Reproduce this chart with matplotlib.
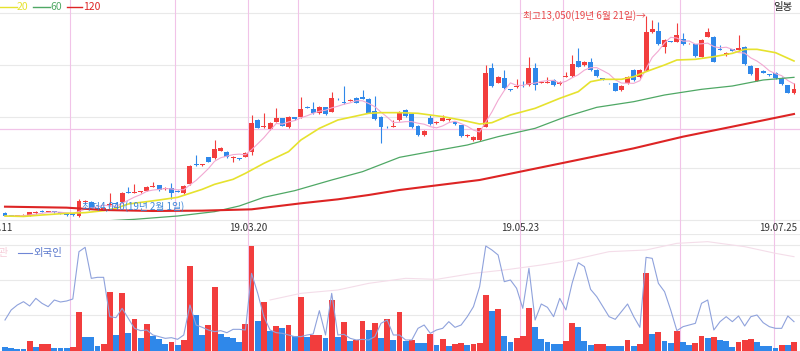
import matplotlib
matplotlib.use("Agg")
import matplotlib.pyplot as plt
import numpy as np
import pandas as pd

plt.rcParams['font.family'] = ['Noto Sans CJK KR', 'DejaVu Sans']

# daily candles (won)
opens = [4190, 4090, 4080, 4100, 4085, 4190, 4300, 4260, 4270, 4235,
         4190, 4145, 4070, 4685, 4710, 4420, 4400, 4545, 4670, 4683,
         5145, 5120, 5150, 5205, 5370, 5444, 5280, 5340, 5205, 5086,
         5504, 6385, 6355, 6698, 6653, 7000, 6952, 6653, 6653, 6728,
         6952, 8370, 8042, 7952, 8296, 8445, 8042, 8490, 8490, 8967,
         8863, 8669, 8938, 8744, 9325, 9161, 9221, 9355, 9415, 9311,
         8789, 8520, 8072, 8060, 8370, 8818, 8639, 8101, 7698, 8445,
         8221, 8340, 8370, 8281, 8131, 7654, 7474, 7474, 8072, 10714,
         10042, 10251, 9750, 9834, 9893, 9938, 10714, 10043, 10043, 10162,
         9983, 10310, 10341, 11028, 10834, 10983, 10610, 10221, 10020, 10013,
         9714, 10013, 10610, 10281, 10580, 12297, 12357, 11655, 11880, 11879,
         11998, 11800, 11759, 11207, 12103, 12103, 11530, 11282, 11535, 11506,
         11655, 10789, 10132, 10565, 10400, 10490, 10266, 9938, 9565]
highs = [4235, 4120, 4130, 4140, 4260, 4280, 4330, 4310, 4300, 4260,
         4210, 4170, 4817, 4790, 4740, 4450, 4480, 5086, 4700, 5150,
         5384, 5500, 5200, 5400, 5590, 5480, 5370, 5534, 5230, 5450,
         6350, 6803, 6410, 6730, 7474, 7150, 6990, 6760, 6690, 6940,
         8594, 8400, 8669, 8260, 8893, 8480, 8550, 8520, 9415, 9000,
         9191, 9000, 8970, 9639, 9350, 9893, 9300, 9390, 9714, 9340,
         9445, 8550, 8100, 8370, 8780, 8860, 8680, 8130, 7910, 8594,
         8310, 8594, 8460, 8310, 8160, 7730, 7660, 8030, 10834, 10908,
         10340, 10610, 9760, 10192, 10100, 11207, 10908, 10110, 10311, 10190,
         10100, 10535, 11282, 11580, 11010, 11132, 10640, 10250, 10040, 10040,
         9920, 10340, 10640, 10640, 13050, 12849, 12775, 11980, 11900, 12730,
         12252, 11830, 11780, 11980, 12476, 12130, 11729, 11410, 11560, 12177,
         11680, 10820, 10710, 10590, 10430, 10520, 10290, 9960, 10013]
lows = [4050, 4060, 4060, 4080, 4070, 4170, 4230, 4230, 4220, 4140,
        4090, 4060, 4040, 4650, 4390, 4370, 4380, 4520, 4600, 4660,
        5080, 5090, 5120, 5180, 5350, 5210, 5250, 4832, 5130, 5060,
        5480, 6300, 6330, 6480, 6620, 6980, 6670, 6504, 6580, 6700,
        6803, 8000, 8010, 7930, 8270, 8080, 8010, 8380, 8470, 8890,
        8640, 8640, 8610, 8720, 9270, 9090, 9200, 9120, 9300, 8670,
        8370, 7325, 8010, 8040, 8340, 8520, 8010, 7670, 7670, 8160,
        8190, 8310, 8340, 8160, 7620, 7620, 7440, 7440, 8042, 9860,
        10010, 9760, 9690, 9800, 9860, 9900, 9714, 10010, 10010, 9900,
        9950, 10280, 10310, 10730, 10800, 10580, 10310, 10170, 9990, 9650,
        9680, 9990, 10130, 10250, 10550, 12270, 11730, 11356, 11850, 11850,
        11730, 11770, 11210, 11180, 12080, 10950, 11490, 11250, 11450, 11480,
        10850, 10400, 10100, 10460, 10360, 10210, 9950, 9560, 9540]
closes = [4060, 4080, 4100, 4110, 4235, 4250, 4260, 4280, 4240, 4160,
          4115, 4100, 4757, 4745, 4415, 4400, 4450, 4610, 4620, 5115,
          5100, 5140, 5160, 5370, 5390, 5235, 5340, 5086, 5160, 5414,
          6325, 6340, 6385, 6504, 7056, 7116, 6698, 6728, 6608, 6907,
          8251, 8027, 8101, 8221, 8475, 8101, 8520, 8400, 8848, 8923,
          8669, 8967, 8639, 9370, 9296, 9117, 9266, 9146, 9325, 8699,
          8400, 8042, 8042, 8100, 8744, 8549, 8042, 7698, 7878, 8191,
          8281, 8475, 8430, 8191, 7654, 7698, 7624, 7997, 10460, 9893,
          10311, 9789, 9715, 9893, 9880, 10684, 9938, 10087, 10087, 9938,
          10072, 10330, 10878, 10759, 10983, 10610, 10341, 10200, 10010, 9684,
          9893, 10311, 10162, 10610, 12327, 12461, 11759, 11953, 11870, 12162,
          11759, 11804, 11237, 11953, 12312, 10983, 11520, 11386, 11476, 11580,
          10878, 10430, 10684, 10490, 10390, 10236, 9983, 9594, 9744]

# volume (thousand shares) and investor lines
volumes = [77, 56, 42, 40, 210, 91, 140, 145, 70, 68,
           66, 84, 819, 301, 298, 112, 154, 1232, 329, 1211,
           371, 672, 280, 567, 315, 252, 154, 196, 126, 231,
           1785, 756, 336, 539, 1337, 357, 287, 280, 196, 567,
           2212, 637, 1036, 420, 525, 476, 546, 322, 1134, 301,
           329, 335, 266, 1071, 301, 609, 217, 231, 623, 434,
           588, 280, 665, 231, 819, 210, 231, 175, 161, 350,
           119, 252, 105, 140, 175, 126, 140, 175, 1169, 833,
           875, 322, 196, 273, 308, 903, 497, 245, 189, 147,
           140, 210, 581, 497, 203, 126, 140, 145, 105, 102,
           100, 238, 105, 140, 1645, 350, 399, 210, 168, 420,
           196, 119, 161, 315, 280, 285, 231, 217, 91, 189,
           224, 259, 189, 105, 102, 70, 126, 119, 196]
foreign = [651, 861, 966, 1036, 945, 1106, 1001, 931, 1071, 1029,
           1050, 1092, 2086, 2177, 1526, 1547, 1547, 721, 700, 896,
           686, 476, 427, 441, 336, 301, 266, 280, 245, 336,
           966, 546, 497, 441, 406, 427, 385, 455, 455, 441,
           1631, 1211, 721, 441, 385, 371, 336, 301, 301, 336,
           357, 847, 336, 1211, 336, 350, 266, 231, 245, 231,
           301, 581, 651, 336, 336, 231, 231, 476, 546, 371,
           441, 476, 616, 497, 546, 721, 931, 1351, 2205, 2121,
           2016, 1456, 1491, 1316, 896, 1736, 651, 987, 917, 721,
           1106, 861, 1421, 1855, 1771, 1295, 1141, 931, 721, 665,
           826, 987, 721, 497, 1967, 1946, 1421, 1246, 861, 427,
           511, 546, 581, 1001, 1071, 441, 616, 721, 616, 735,
           525, 721, 756, 595, 511, 476, 476, 735, 616]
inst_idx = [43, 48, 54, 59, 65, 70, 76, 81, 87, 92, 98, 104, 109, 114, 120, 125, 128]
inst_val = [1071, 1211, 1281, 1421, 1526, 1505, 1631, 1701, 1806, 1911, 2086,
            2121, 2261, 2296, 2191, 2051, 1981]

# moving averages (candle index, value)
ma20_idx = [0, 3, 6, 10, 13, 16, 18, 20, 23, 25, 28, 32, 34, 37, 39, 42, 46, 48,
            51, 54, 59, 61, 64, 67, 71, 74, 77, 79, 82, 86, 90, 93, 95, 97, 100,
            102, 104, 107, 109, 112, 115, 118, 120, 122, 125, 128]
ma20_val = [4070, 4050, 4115, 4190, 4220, 4310, 4414, 4608, 4713, 4787, 4907,
            5265, 5489, 5713, 5981, 6429, 6952, 7474, 7997, 8370, 8669, 8699,
            8699, 8669, 8520, 8370, 8191, 8251, 8594, 8893, 9341, 9639, 10087,
            10192, 10192, 10311, 10535, 10834, 11058, 11088, 11207, 11356,
            11535, 11535, 11386, 11013]
ma60_idx = [0, 14, 21, 28, 34, 38, 42, 47, 53, 58, 64, 69, 75, 80, 86, 91, 96,
            102, 107, 113, 118, 123, 128]
ma60_val = [3712, 3817, 3921, 4070, 4265, 4518, 4907, 5205, 5683, 6056, 6698,
            6952, 7250, 7624, 7997, 8520, 8938, 9191, 9490, 9744, 9893, 10162, 10281]
ma120_idx = [0, 10, 16, 24, 32, 40, 48, 54, 59, 64, 77, 91, 102, 110, 118, 128]
ma120_val = [4488, 4444, 4339, 4295, 4310, 4369, 4638, 4817, 5011, 5235, 5683,
             6474, 7101, 7624, 8072, 8639]

ref_price = 7970
month_lines = [10.5, 27.5, 47.5, 69.5, 90.5, 109.5]
date_lines = [39.5, 83.5, 124.8]
date_pos = [-1.9, 39.5, 83.5, 125.4]
date_labels = ["19.01.11", "19.03.20", "19.05.23", "19.07.25"]

RED = "#f23d3d"
BLUE = "#2f88ea"
GRID = "#e9e9e9"
PINK = "#f1c3e8"

W, H = 800, 351
fig = plt.figure(figsize=(W / 100, H / 100), dpi=100)
ax = fig.add_axes([0, 1 - 220 / H, 1, 220 / H])
axv = fig.add_axes([0, 0, 1, 117 / H])

n = len(closes)
x = np.arange(n)
xlim = (-5 / 6.164, (W - 5) / 6.164)
for a in (ax, axv):
    a.set_xlim(*xlim)
    a.axis("off")

# price pane
ylo, yhi = 3891, 13745
ax.set_ylim(ylo, yhi)
for k in range(1, 5):
    ax.axhline(ylo + k * 0.2348 * (yhi - ylo), color=GRID, lw=0.8, zorder=0)
ax.axhline(ylo, color=GRID, lw=0.8, zorder=0, clip_on=False)
ax.axhline(ref_price, color=PINK, lw=0.9, zorder=0.5)

for xv in month_lines + date_lines:
    ax.axvline(xv, ymin=-14 / 220, ymax=1, color=PINK, lw=0.8, zorder=0.5, clip_on=False)
    axv.axvline(xv, color=PINK, lw=0.8, zorder=0.5)

o = np.array(opens)
c = np.array(closes)
up = c >= o
cols = np.where(up, RED, BLUE)
ax.vlines(x, lows, highs, colors=cols, lw=0.8, zorder=3)
body_h = np.maximum(np.abs(c - o), 35)
ax.bar(x, body_h, bottom=np.minimum(o, c), width=0.8, color=cols, zorder=4, lw=0)

ma5 = pd.Series(closes).rolling(5, min_periods=1).mean()
ax.plot(x, ma5, color="#f2a8d2", lw=0.8, zorder=5)
ax.plot(ma20_idx, ma20_val, color="#e6e22e", lw=1.2, zorder=5)
ax.plot(ma60_idx, ma60_val, color="#4fa865", lw=0.9, zorder=5)
ax.plot(ma120_idx, ma120_val, color="#dd2424", lw=1.5, zorder=5)

# high / low labels
hi_i = int(np.argmax(highs))
lo_i = int(np.argmin(lows))
ax.annotate(f"최고{highs[hi_i]:,}(19년 6월 21일)→", xy=(hi_i, highs[hi_i]),
            xytext=(0, 0), textcoords="offset points", ha="right", va="center",
            fontsize=7, color="#e8474a", zorder=6)
ax.annotate(f"최저{lows[lo_i]:,}(19년 2월 1일)", xy=(lo_i, lows[lo_i]),
            xytext=(2, 7.5), textcoords="offset points", ha="left", va="center",
            fontsize=7, color="#3b86d8", zorder=6)

# legend
ty = 1 - 6.5 / 220
for x0, x1, tx, lab, col in [(0, 17, 17, "20", "#e6e22e"), (33, 50, 50, "60", "#4fa865"),
                             (67, 82, 83, "120", "#dd2424")]:
    ax.plot([x0 / W, x1 / W], [ty, ty], transform=ax.transAxes, color=col, lw=1, clip_on=False)
    ax.text(tx / W, ty, lab, transform=ax.transAxes, color=col, fontsize=7.5, va="center")
ax.text(793 / W, 1 - 7 / 220, "일봉", transform=ax.transAxes, ha="right", va="center",
        fontsize=7.5, color="#222222")

# date labels
for p, lab in zip(date_pos, date_labels):
    ax.text(p, -8 / 220, lab, transform=ax.get_xaxis_transform(), ha="center", va="center",
            fontsize=7, color="#333333", clip_on=False)

# volume pane
vmax = 117 * 21
axv.set_ylim(0, vmax)
for yv in [(351 - 245) * 21, (351 - 280) * 21, (351 - 315) * 21]:
    axv.axhline(yv, color=GRID, lw=0.8, zorder=0)
axv.axhline(vmax, color=GRID, lw=0.8, zorder=0)
vol = np.array(volumes)
vup = np.concatenate([[False], vol[1:] > vol[:-1]])
axv.plot(inst_idx, inst_val, color="#f4dde9", lw=0.8, zorder=1)
axv.bar(x, vol, width=0.95, color=np.where(vup, RED, BLUE), zorder=2, lw=0)
axv.plot(x, foreign, color="#8fa2dc", lw=0.8, zorder=3)

ly = (351 - 253) / 117
axv.text(9 / W, ly, "기관", transform=axv.transAxes, ha="right", va="center",
         fontsize=7.5, color="#f6cdd9")
axv.plot([18 / W, 32 / W], [ly, ly], transform=axv.transAxes, color="#6f86d6", lw=0.8)
axv.text(33 / W, ly, "외국인", transform=axv.transAxes, ha="left", va="center",
         fontsize=7.5, color="#5a78cc")

fig.savefig("out.png", dpi=100)
